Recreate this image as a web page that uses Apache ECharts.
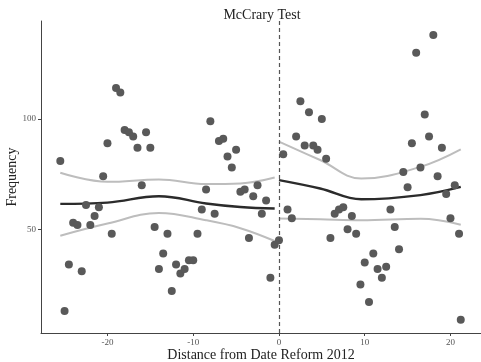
<!DOCTYPE html>
<html>
<head>
<meta charset="utf-8">
<script src="https://cdn.jsdelivr.net/npm/echarts@6/dist/echarts.min.js"></script>
<style>
  html, body { margin: 0; padding: 0; background: #fff; }
  #chart { width: 481px; height: 362px; }
</style>
</head>
<body>
<div id="chart"></div>
<script>
// points left of the cutoff
var leftX = [-25.5, -19, -18.5, -18, -17.5, -17, -15.5, -20, -16.5, -15, -20.5, -8, -7, -6.5, -5, -6, -5.5,
  -16, -8.5, -4.5, -4, -2.5, -3, -1.5, -2, -3.5, -9, -7.5, -22.5, -21, -21.5, -24, -23.5, -22, -19.5,
  -14.5, -13, -9.5, -24.5, -23, -13.5, -14, -12, -11.5, -11, -10.5, -10, -12.5, -1, -0.5, -25];
var leftY = [81, 114, 112, 95, 94, 92, 94, 89, 87, 87, 74, 99, 90, 91, 86, 83, 78,
  70, 68, 67, 68, 70, 65, 63, 57, 46, 59, 57, 61, 60, 56, 53, 52, 52, 48,
  51, 48, 48, 34, 31, 39, 32, 34, 30, 32, 36, 36, 22, 28, 43, 13];
// points right of the cutoff
var rightX = [0.5, 2.5, 3.5, 5, 2, 3, 4, 4.5, 5.5, 16, 18, 17, 17.5, 15.5, 19, 16.5, 14.5, 18.5, 15, 20.5, 19.5,
  1, 1.5, 6.5, 7, 7.5, 8.5, 8, 9, 6, 13, 13.5, 14, 20, 21, 0, 11, 10, 11.5, 12.5, 12, 9.5, 10.5, 21.2];
var rightY = [84, 108, 103, 100, 92, 88, 88, 86, 82, 130, 138, 102, 92, 89, 87, 78, 76, 74, 69, 70, 66,
  59, 55, 57, 59, 60, 56, 50, 48, 46, 59, 51, 41, 55, 48, 45, 39, 35, 32, 33, 28, 25, 17, 9];

// local fit and its band
var fitLX = [-25.5, -20, -14, -8.5, -4.5, -0.5];
var fitL = [61.5, 62.1, 65, 61.7, 60.1, 59.4];
var hiL = [75.6, 71.5, 72.6, 70.5, 70.8, 73.5];
var loL = [47.1, 52.6, 57.4, 54.1, 50.5, 44.7];
var fitRX = [0, 4.8, 9.6, 16.5, 21.2];
var fitR = [72.3, 68.5, 63.6, 65.5, 69.2];
var hiR = [89.7, 81.4, 73, 78.3, 86.2];
var loR = [54.9, 54.5, 54.1, 54.8, 52.1];

var xTicks = [-20, -10, 0, 10, 20];
var yTicks = [50, 100];

function zip(xs, ys) {
  var out = [];
  for (var i = 0; i < xs.length; i++) out.push([xs[i], ys[i]]);
  return out;
}

var font = "'Liberation Serif', 'DejaVu Serif', serif";

function curve(xs, ys, color, width) {
  return {
    type: 'line', data: zip(xs, ys), smooth: 0.4, showSymbol: false, silent: true,
    lineStyle: { color: color, width: width }, z: 3
  };
}

var chart = echarts.init(document.getElementById('chart'));
chart.setOption({
  animation: false,
  backgroundColor: '#fff',
  title: {
    text: 'McCrary Test', left: 257, top: 3, textAlign: 'center',
    textStyle: { fontFamily: font, fontSize: 14, fontWeight: 'normal', color: '#222' }
  },
  grid: { left: 41, right: 0, top: 21, bottom: 29, containLabel: false, outerBoundsMode: 'none' },
  xAxis: {
    type: 'value', min: -27.75, max: 23.56,
    name: 'Distance from Date Reform 2012', nameLocation: 'middle', nameGap: 15, nameMoveOverlap: false,
    nameTextStyle: { fontFamily: font, fontSize: 14, color: '#222' },
    axisLine: { onZero: false, lineStyle: { color: '#444', width: 1 } },
    axisTick: { show: true, length: 3, customValues: xTicks, lineStyle: { color: '#444' } },
    axisLabel: { customValues: xTicks, fontFamily: font, fontSize: 9, color: '#555', margin: 5 },
    splitLine: { show: false }
  },
  yAxis: {
    type: 'value', min: 3, max: 144.4,
    name: 'Frequency', nameLocation: 'middle', nameGap: 22, nameMoveOverlap: false,
    nameTextStyle: { fontFamily: font, fontSize: 14, color: '#222' },
    axisLine: { show: true, onZero: false, lineStyle: { color: '#444', width: 1 } },
    axisTick: { show: true, length: 3, customValues: yTicks, lineStyle: { color: '#444' } },
    axisLabel: { customValues: yTicks, fontFamily: font, fontSize: 9, color: '#555', margin: 5 },
    splitLine: { show: false }
  },
  series: [
    {
      type: 'scatter', data: zip(leftX, leftY).concat(zip(rightX, rightY)),
      symbolSize: 8, itemStyle: { color: '#595959', opacity: 1 }, z: 4,
      markLine: {
        silent: true, symbol: 'none', label: { show: false },
        lineStyle: { color: '#555', type: [4, 3], width: 1.2 },
        data: [{ xAxis: 0 }]
      }
    },
    curve(fitLX, hiL, '#bdbdbd', 2),
    curve(fitLX, loL, '#bdbdbd', 2),
    curve(fitLX, fitL, '#2b2b2b', 2.4),
    curve(fitRX, hiR, '#bdbdbd', 2),
    curve(fitRX, loR, '#bdbdbd', 2),
    curve(fitRX, fitR, '#2b2b2b', 2.4)
  ]
});
</script>
</body>
</html>
